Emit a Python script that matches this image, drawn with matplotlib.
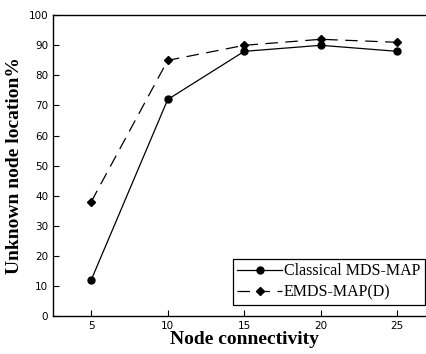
import matplotlib
matplotlib.use('Agg')
import matplotlib.pyplot as plt

# data
connectivity = [5, 10, 15, 20, 25]
classical = [12, 72, 88, 90, 88]
emds = [38, 85, 90, 92, 91]
yticks = [0, 10, 20, 30, 40, 50, 60, 70, 80, 90, 100]

fig = plt.figure(figsize=(4.27, 3.54), dpi=100)
ax = fig.add_axes([0.124, 0.107, 0.896, 0.850])

ax.plot(connectivity, classical, '-', color='black', lw=0.9,
        marker='o', ms=5, label='Classical MDS-MAP')
ax.plot(connectivity, emds, color='black', lw=0.9, ls=(0, (10, 6)),
        marker='D', ms=4.5, label='EMDS-MAP(D)')

ax.set_xlim(2.5, 27.5)
ax.set_ylim(0, 100)
ax.set_xticks(connectivity)
ax.set_yticks(yticks)
ax.tick_params(direction='in', length=4, labelsize=7.5, width=0.8)
for s in ax.spines.values():
    s.set_linewidth(1.0)

serif = {'family': 'Liberation Serif', 'weight': 'bold', 'size': 14}
ax.set_xlabel('Node connectivity', fontdict=serif, labelpad=0)
ax.set_ylabel('Unknown node location%', fontdict=serif, labelpad=4)

leg = ax.legend(loc='lower right', bbox_to_anchor=(0.972, 0.037),
                borderaxespad=0,
                prop={'family': 'Liberation Serif', 'size': 11.5},
                fancybox=False, edgecolor='black', framealpha=1,
                borderpad=0.3, handlelength=2.8, labelspacing=0.3,
                handletextpad=0.1)
leg.get_frame().set_linewidth(0.9)

fig.savefig('out.png', dpi=100)
